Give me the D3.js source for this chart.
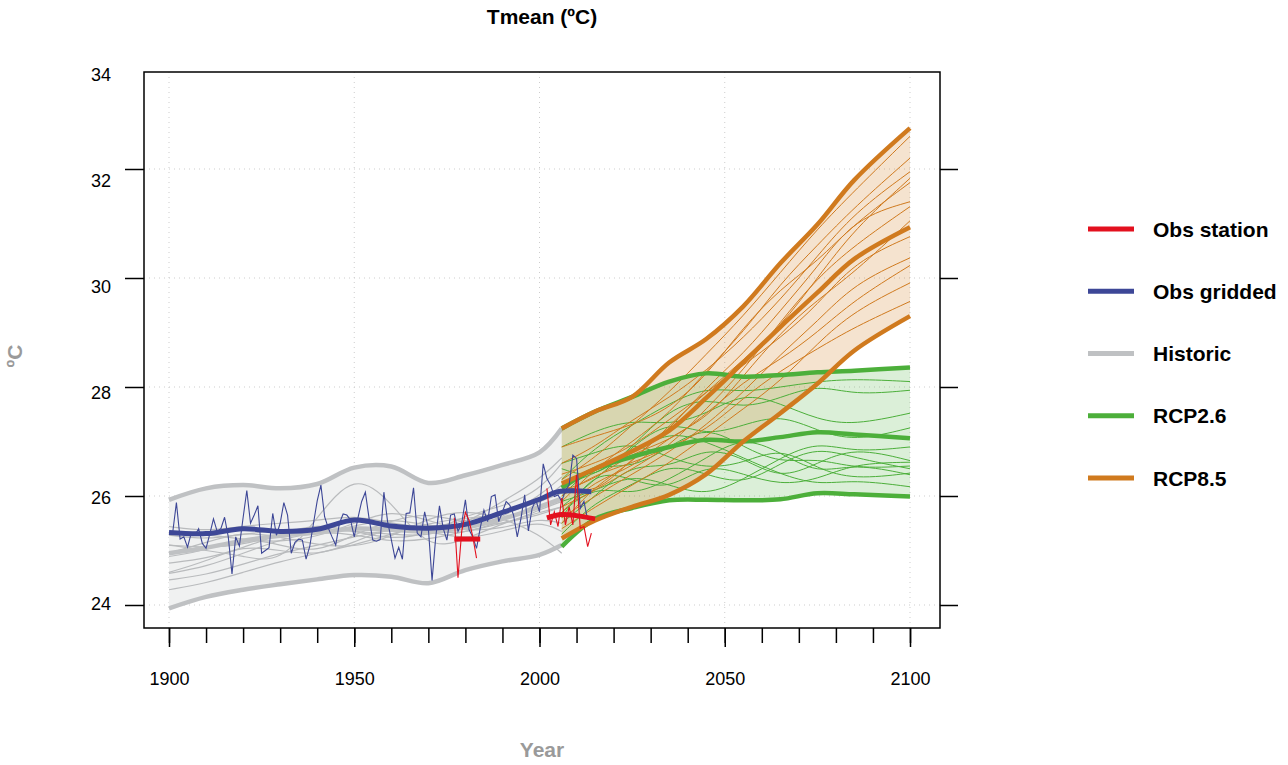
<!DOCTYPE html>
<html>
<head>
<meta charset="utf-8">
<script src="https://cdn.jsdelivr.net/npm/d3@7"></script>
<style>
	body { margin: 0; background: #fff; }
	text { font-family: "Liberation Sans", Arial, sans-serif; }
</style>
</head>
<body>
<svg id="chart" width="1288" height="765"></svg>
<script>
(function () {
	// ---- data ----
	var histYears = [1900, 1910, 1920, 1930, 1940, 1950, 1960, 1970, 1980, 1990, 2000, 2006];
	var histUpper = [25.93, 26.14, 26.20, 26.14, 26.22, 26.52, 26.54, 26.24, 26.38, 26.57, 26.80, 27.24];
	var histLower = [23.94, 24.15, 24.28, 24.38, 24.47, 24.55, 24.52, 24.40, 24.64, 24.80, 24.92, 25.10];
	var histMean = [24.95, 25.05, 25.18, 25.27, 25.33, 25.40, 25.38, 25.35, 25.42, 25.58, 25.80, 25.95];
	var histMembers = [
		[25.44, 25.35, 25.45, 25.50, 25.55, 25.65, 25.50, 25.40, 25.55, 25.70, 25.90, 26.10],
		[25.28, 25.20, 25.30, 25.38, 25.30, 25.45, 25.60, 25.45, 25.40, 25.60, 26.00, 26.35],
		[24.89, 25.00, 25.25, 25.10, 24.95, 25.30, 25.55, 25.70, 25.50, 25.45, 25.75, 25.90],
		[24.77, 24.85, 25.05, 25.30, 25.50, 25.35, 25.20, 25.30, 25.65, 25.80, 26.10, 26.60],
		[25.10, 25.00, 24.90, 24.75, 25.60, 26.45, 25.90, 25.00, 25.20, 25.50, 25.70, 25.80],
		[24.58, 24.70, 24.95, 25.20, 25.35, 25.30, 25.15, 25.20, 25.35, 25.50, 25.65, 25.80],
		[24.46, 24.55, 24.75, 24.95, 25.10, 25.25, 25.40, 25.35, 25.30, 25.55, 25.85, 26.20],
		[24.28, 24.40, 24.60, 24.80, 24.95, 25.10, 25.30, 25.50, 25.60, 25.65, 25.90, 26.05],
		[25.35, 25.30, 25.20, 25.15, 25.25, 25.50, 25.75, 25.55, 25.35, 25.40, 25.60, 25.50],
		[24.95, 25.15, 25.35, 25.25, 25.10, 25.05, 25.25, 25.60, 25.75, 25.60, 25.30, 24.95],
		[25.10, 25.05, 25.10, 25.30, 25.40, 25.35, 25.30, 25.25, 25.50, 25.90, 26.30, 26.70],
		[24.60, 24.80, 25.10, 25.00, 24.90, 25.15, 25.45, 25.35, 25.20, 25.35, 25.55, 25.35]
	];

	var rcpYears = [2006, 2015, 2025, 2035, 2045, 2055, 2065, 2075, 2085, 2100];
	var rcp26Upper = [27.24, 27.55, 27.82, 28.10, 28.25, 28.19, 28.22, 28.27, 28.30, 28.36];
	var rcp26Lower = [25.07, 25.58, 25.78, 25.92, 25.93, 25.92, 25.94, 26.05, 26.03, 25.99];
	var rcp26Mean = [26.15, 26.50, 26.72, 26.90, 27.03, 27.00, 27.08, 27.17, 27.13, 27.06];
	var rcp26Members = [
		[26.30, 26.90, 27.30, 27.70, 28.00, 27.90, 28.00, 28.10, 28.15, 28.10],
		[25.80, 26.30, 26.90, 27.60, 27.80, 27.60, 27.80, 28.05, 27.85, 27.94],
		[26.90, 27.20, 27.40, 27.30, 27.50, 27.90, 27.70, 27.40, 27.30, 27.52],
		[25.50, 26.00, 26.60, 26.50, 26.90, 26.70, 26.30, 26.60, 26.90, 26.65],
		[26.00, 26.60, 26.50, 26.90, 27.30, 26.90, 26.60, 26.70, 26.50, 26.55],
		[25.30, 25.90, 26.20, 26.60, 26.40, 26.20, 26.60, 26.90, 26.70, 26.50],
		[26.60, 26.80, 27.00, 26.70, 26.50, 26.60, 26.90, 26.50, 26.30, 26.42],
		[25.70, 26.20, 26.00, 26.30, 26.70, 27.10, 26.80, 26.40, 26.60, 26.39],
		[26.20, 26.40, 26.80, 27.20, 27.00, 26.70, 26.40, 26.20, 26.30, 26.17],
		[25.90, 26.10, 26.40, 26.20, 26.00, 26.30, 26.70, 27.00, 26.80, 26.90],
		[26.50, 26.30, 26.90, 27.40, 27.10, 27.30, 27.50, 27.20, 27.00, 27.25],
		[25.60, 26.50, 26.30, 26.10, 26.60, 26.40, 26.20, 26.30, 26.60, 26.62]
	];

	var rcp85Upper = [27.24, 27.55, 27.82, 28.45, 28.88, 29.48, 30.27, 30.98, 31.80, 32.75];
	var rcp85Lower = [25.22, 25.55, 25.80, 26.02, 26.40, 27.00, 27.52, 28.06, 28.67, 29.30];
	var rcp85Mean = [26.23, 26.50, 26.82, 27.20, 27.80, 28.45, 29.10, 29.73, 30.35, 30.93];
	var rcp85Members = [
		[26.30, 26.70, 27.30, 27.90, 28.60, 29.30, 30.10, 30.90, 31.60, 32.60],
		[25.90, 26.50, 27.00, 27.50, 28.30, 29.00, 29.90, 30.60, 31.30, 32.20],
		[26.60, 26.90, 27.40, 27.80, 28.30, 28.90, 29.60, 30.40, 31.20, 31.95],
		[25.50, 26.20, 26.60, 27.30, 27.90, 28.50, 29.10, 30.00, 30.90, 31.83],
		[26.90, 27.10, 27.30, 27.60, 28.20, 29.10, 29.80, 30.30, 31.00, 31.75],
		[25.80, 26.10, 26.50, 26.90, 27.60, 28.30, 29.20, 30.00, 30.60, 31.31],
		[26.40, 26.60, 26.90, 27.40, 27.90, 28.40, 28.90, 29.50, 30.30, 30.76],
		[25.60, 26.00, 26.40, 26.80, 27.30, 27.90, 28.60, 29.20, 29.90, 30.37],
		[26.10, 26.30, 26.80, 27.00, 27.50, 28.10, 28.50, 29.00, 29.60, 30.23],
		[25.40, 25.80, 26.20, 26.60, 27.10, 27.60, 28.10, 28.80, 29.40, 29.91],
		[26.00, 26.40, 26.60, 26.90, 27.20, 27.80, 28.30, 28.70, 29.10, 29.57],
		[25.70, 26.30, 26.50, 27.10, 27.40, 28.20, 29.00, 29.60, 30.10, 31.05],
		[26.20, 26.00, 26.70, 27.20, 28.00, 28.60, 29.40, 30.20, 31.10, 31.40]
	];

	// observed gridded annual means, 1901-2013
	var griddedStart = 1901;
	var gridded = [
		25.33, 25.88, 25.21, 25.25, 25.06, 25.32, 25.28, 25.40, 25.13, 25.04,
		25.30, 25.58, 25.35, 25.40, 25.61, 25.25, 24.57, 25.25, 25.08, 25.60,
		26.10, 25.50, 25.65, 25.82, 24.95, 25.00, 25.05, 25.68, 25.28, 25.50,
		25.88, 25.65, 24.95, 25.15, 25.21, 25.19, 24.84, 25.08, 25.50, 25.91,
		26.20, 25.62, 25.41, 25.25, 25.10, 25.50, 25.67, 25.65, 25.56, 25.25,
		25.60, 25.90, 26.07, 25.59, 25.19, 25.17, 25.20, 26.07, 25.53, 25.20,
		24.86, 25.06, 24.84, 25.68, 25.69, 26.15, 25.32, 25.25, 25.71, 25.41,
		24.45, 25.25, 25.82, 25.41, 25.19, 25.65, 25.67, 25.35, 25.50, 25.93,
		25.38, 25.25, 25.04, 25.41, 25.74, 25.53, 25.99, 26.02, 25.53, 25.71,
		25.90, 25.83, 25.65, 25.25, 25.59, 26.02, 25.36, 25.77, 25.93, 25.71,
		26.59, 26.32, 26.20, 25.99, 26.02, 25.90, 26.11, 26.20, 26.75, 26.69,
		25.77, 25.90, 25.56
	];
	var griddedSmoothYears = [1900, 1910, 1920, 1930, 1940, 1950, 1960, 1970, 1980, 1990, 2000, 2005, 2014];
	var griddedSmooth = [25.33, 25.31, 25.40, 25.35, 25.39, 25.56, 25.45, 25.41, 25.48, 25.70, 25.94, 26.08, 26.08];

	var stationYearsA = [1977, 1978, 1979, 1980, 1981, 1982, 1983];
	var stationA = [25.60, 24.50, 25.35, 25.70, 25.55, 25.25, 24.86];
	var stationMeanYearsA = [1977, 1984];
	var stationMeanA = [25.21, 25.21];
	var stationYearsB = [2002, 2003, 2004, 2005, 2006, 2007, 2008, 2009, 2010, 2011, 2012, 2013, 2014];
	var stationB = [26.14, 25.47, 25.71, 25.44, 25.96, 25.47, 25.80, 25.47, 26.39, 25.41, 25.44, 25.07, 25.32];
	var stationMeanYearsB = [2002, 2006, 2010, 2015];
	var stationMeanB = [25.60, 25.66, 25.64, 25.58];

	var xTicks = [1900, 1910, 1920, 1930, 1940, 1950, 1960, 1970, 1980, 1990, 2000,
		2010, 2020, 2030, 2040, 2050, 2060, 2070, 2080, 2090, 2100];
	var xLabels = [1900, 1950, 2000, 2050, 2100];
	var yTicks = [24, 26, 28, 30, 32];
	var yLabels = [24, 26, 28, 30, 32, 34];

	var legendNames = ["Obs station", "Obs gridded", "Historic", "RCP2.6", "RCP8.5"];

	var colors = {
		red: "#e3101e",
		blue: "#3d4797",
		gray: "#bfc1c3",
		green: "#4caf3a",
		orange: "#d07a1e"
	};
	var legendColors = [colors.red, colors.blue, colors.gray, colors.green, colors.orange];

	// ---- layout ----
	var box = { left: 144, right: 940, top: 72, bottom: 628 };
	var svg = d3.select("#chart");

	var x = d3.scaleLinear().domain([1900, 2100]).range([169, 910]);
	var y = d3.scaleLinear().domain([24, 32]).range([605, 169]);
	var yLab = d3.scaleLinear().domain([24, 34]).range([604, 75]);

	function pairs(years, vals) {
		return vals.map(function (v, i) { return [years[i], v]; });
	}

	var smooth = d3.line()
		.x(function (d) { return x(d[0]); })
		.y(function (d) { return y(d[1]); })
		.curve(d3.curveCatmullRom.alpha(0.5));
	var wiggly = d3.line()
		.x(function (d) { return x(d[0]); })
		.y(function (d) { return y(d[1]); })
		.curve(d3.curveBasis);
	var straight = d3.line()
		.x(function (d) { return x(d[0]); })
		.y(function (d) { return y(d[1]); });
	var band = d3.area()
		.x(function (d) { return x(d[0]); })
		.y0(function (d) { return y(d[1]); })
		.y1(function (d) { return y(d[2]); })
		.curve(d3.curveCatmullRom.alpha(0.5));

	function bandData(years, lo, hi) {
		return years.map(function (yr, i) { return [yr, lo[i], hi[i]]; });
	}

	// ---- grid ----
	var grid = svg.append("g").attr("stroke", "#cdcdcd").attr("stroke-dasharray", "1,4");
	grid.selectAll("line.v")
		.data(xLabels)
		.enter()
		.append("line")
		.attr("x1", d => x(d)).attr("x2", d => x(d))
		.attr("y1", box.top).attr("y2", box.bottom);
	grid.selectAll("line.h")
		.data(yTicks)
		.enter()
		.append("line")
		.attr("x1", box.left).attr("x2", box.right)
		.attr("y1", d => y(d)).attr("y2", d => y(d));

	// ---- historic ----
	svg.append("path")
		.attr("d", band(bandData(histYears, histLower, histUpper)))
		.attr("fill", "#f0f1f1");
	histMembers.forEach(function (m) {
		svg.append("path")
			.attr("d", wiggly(pairs(histYears, m)))
			.attr("fill", "none")
			.attr("stroke", "#b9bbbd")
			.attr("stroke-width", 1.2);
	});
	[histUpper, histLower, histMean].forEach(function (s) {
		svg.append("path")
			.attr("d", smooth(pairs(histYears, s)))
			.attr("fill", "none")
			.attr("stroke", colors.gray)
			.attr("stroke-width", 4.5);
	});

	// ---- scenario bands ----
	svg.append("path")
		.attr("d", band(bandData(rcpYears, rcp26Lower, rcp26Upper)))
		.attr("fill", colors.green)
		.attr("fill-opacity", 0.2);
	svg.append("path")
		.attr("d", band(bandData(rcpYears, rcp85Lower, rcp85Upper)))
		.attr("fill", colors.orange)
		.attr("fill-opacity", 0.21);

	rcp26Members.forEach(function (m) {
		svg.append("path")
			.attr("d", wiggly(pairs(rcpYears, m)))
			.attr("fill", "none")
			.attr("stroke", colors.green)
			.attr("stroke-width", 1);
	});
	rcp85Members.forEach(function (m) {
		svg.append("path")
			.attr("d", wiggly(pairs(rcpYears, m)))
			.attr("fill", "none")
			.attr("stroke", colors.orange)
			.attr("stroke-width", 1);
	});
	[rcp26Upper, rcp26Lower, rcp26Mean].forEach(function (s) {
		svg.append("path")
			.attr("d", smooth(pairs(rcpYears, s)))
			.attr("fill", "none")
			.attr("stroke", colors.green)
			.attr("stroke-width", 4.5);
	});
	[rcp85Upper, rcp85Lower, rcp85Mean].forEach(function (s) {
		svg.append("path")
			.attr("d", smooth(pairs(rcpYears, s)))
			.attr("fill", "none")
			.attr("stroke", colors.orange)
			.attr("stroke-width", 4.5);
	});

	// ---- observations ----
	svg.append("path")
		.attr("d", straight(gridded.map((v, i) => [griddedStart + i, v])))
		.attr("fill", "none")
		.attr("stroke", colors.blue)
		.attr("stroke-width", 1.1);
	svg.append("path")
		.attr("d", smooth(pairs(griddedSmoothYears, griddedSmooth)))
		.attr("fill", "none")
		.attr("stroke", colors.blue)
		.attr("stroke-width", 5);

	[[stationYearsA, stationA], [stationYearsB, stationB]].forEach(function (s) {
		svg.append("path")
			.attr("d", straight(pairs(s[0], s[1])))
			.attr("fill", "none")
			.attr("stroke", colors.red)
			.attr("stroke-width", 1.1);
	});
	[[stationMeanYearsA, stationMeanA], [stationMeanYearsB, stationMeanB]].forEach(function (s) {
		svg.append("path")
			.attr("d", smooth(pairs(s[0], s[1])))
			.attr("fill", "none")
			.attr("stroke", colors.red)
			.attr("stroke-width", 5);
	});

	// ---- box and axes ----
	svg.append("rect")
		.attr("x", box.left).attr("y", box.top)
		.attr("width", box.right - box.left).attr("height", box.bottom - box.top)
		.attr("fill", "none")
		.attr("stroke", "#000")
		.attr("stroke-width", 1.5);

	var minorAxis = svg.append("g")
		.attr("transform", "translate(0," + box.bottom + ")")
		.call(d3.axisBottom(x).tickValues(xTicks).tickSize(15).tickFormat(""));
	var majorAxis = svg.append("g")
		.attr("transform", "translate(0," + box.bottom + ")")
		.call(d3.axisBottom(x).tickValues(xLabels).tickSize(19).tickPadding(25).tickFormat(d3.format("d")));
	var leftAxis = svg.append("g")
		.attr("transform", "translate(" + box.left + ",0)")
		.call(d3.axisLeft(y).tickValues(yTicks).tickSize(19).tickFormat(""));
	var leftLabels = svg.append("g")
		.attr("transform", "translate(" + box.left + ",0)")
		.call(d3.axisLeft(yLab).tickValues(yLabels).tickSize(0).tickPadding(33).tickFormat(d3.format("d")));
	var rightAxis = svg.append("g")
		.attr("transform", "translate(" + box.right + ",0)")
		.call(d3.axisRight(y).tickValues(yTicks).tickSize(18).tickFormat(""));

	[minorAxis, majorAxis, leftAxis, leftLabels, rightAxis].forEach(function (g) {
		g.select(".domain").remove();
		g.selectAll(".tick line").attr("stroke", "#000").attr("stroke-width", 1.5);
		g.selectAll("text")
			.attr("fill", "#000")
			.style("font-size", "18px")
			.style("font-family", '"Liberation Sans", Arial, sans-serif');
	});

	// ---- titles ----
	svg.append("text")
		.attr("x", 542).attr("y", 24)
		.attr("text-anchor", "middle")
		.style("font-size", "21px").style("font-weight", "bold")
		.text("Tmean (ºC)");
	svg.append("text")
		.attr("x", 542).attr("y", 757)
		.attr("text-anchor", "middle")
		.attr("fill", "#9a9a9a")
		.style("font-size", "21px").style("font-weight", "bold")
		.text("Year");
	svg.append("text")
		.attr("transform", "translate(22,356) rotate(-90)")
		.attr("text-anchor", "middle")
		.attr("fill", "#9a9a9a")
		.style("font-size", "21px").style("font-weight", "bold")
		.text("ºC");

	// ---- legend ----
	var legendY = d3.scalePoint().domain(legendNames).range([229, 478]);
	var legend = svg.append("g");
	legendNames.forEach(function (name, i) {
		legend.append("line")
			.attr("x1", 1088).attr("x2", 1134)
			.attr("y1", legendY(name)).attr("y2", legendY(name))
			.attr("stroke", legendColors[i])
			.attr("stroke-width", 5);
		legend.append("text")
			.attr("x", 1153).attr("y", legendY(name) + 7.5)
			.style("font-size", "21px").style("font-weight", "bold")
			.text(name);
	});
}());
</script>
</body>
</html>
